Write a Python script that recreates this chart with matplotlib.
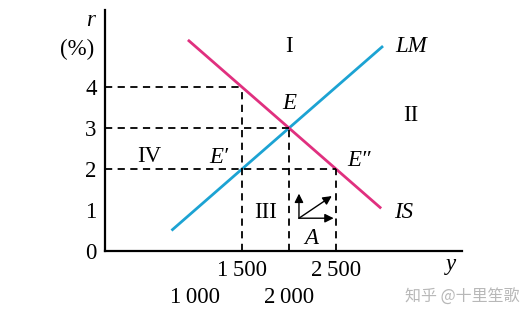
"""
IS-LM diagram: four regions around the equilibrium point E
"""

import matplotlib
matplotlib.use('Agg')
import matplotlib.pyplot as plt
from matplotlib.transforms import blended_transform_factory

plt.rcParams['font.family'] = ['Liberation Serif', 'DejaVu Serif']

# data
lm_y = [750, 3000]          # income range for LM
lm_r = [0.5, 5.0]
is_y = [925, 2980]          # income range for IS
is_r = [5.15, 1.04]

# points where the dashed guides meet the curves
guide_y = [1500, 2000, 2500]
guide_r = [4, 3, 2]

r_ticks = [0, 1, 2, 3, 4]
y_ticks_upper = [1500, 2500]
y_ticks_lower = [1000, 2000]
y_tick_text = {1000: '1\u2009000', 1500: '1\u2009500', 2000: '2\u2009000', 2500: '2\u2009500'}

region_names = ['I', 'II', 'III', 'IV']
region_pos = [(2000, 5.0), (3300, 3.3), (1755, 0.95), (510, 2.3)]

point_names = ['E', "E\u2032", "E\u2033"]
point_pos = [(2000, 3.6), (1255, 2.27), (2745, 2.2)]

# arrows around point A
arrow_origin = (2106, 0.8)
arrow_tips = [(2106, 1.4), (2475, 0.8), (2455, 1.34)]

LM_COLOR = '#1ca3d3'
IS_COLOR = '#e0307f'
FS = 16.5

fig = plt.figure(figsize=(5.28, 3.18), dpi=100)
ax = fig.add_axes([105 / 528, 67 / 318, 357 / 528, 241 / 318])
ax.set_xlim(43, 3840)
ax.set_ylim(0, 5.88)

for s in ['top', 'right']:
    ax.spines[s].set_visible(False)
ax.spines['left'].set_linewidth(1.6)
ax.spines['bottom'].set_linewidth(1.6)

# curves
ax.plot(lm_y, lm_r, color=LM_COLOR, lw=2, solid_capstyle='butt')
ax.plot(is_y, is_r, color=IS_COLOR, lw=2, solid_capstyle='butt')

# dashed guides
dash = dict(color='black', lw=1.3, linestyle=(0, (4, 3)))
for gy, gr in zip(guide_y, guide_r):
    ax.plot([43, gy], [gr, gr], **dash)
    ax.plot([gy, gy], [0, gr], **dash)

# axis ticks
ax.set_yticks(r_ticks)
ax.set_yticklabels([str(t) for t in r_ticks], fontsize=FS)
ax.tick_params(axis='y', length=0, pad=6)
ax.set_xticks([])

trans = blended_transform_factory(ax.transData, ax.transAxes)
for t in y_ticks_upper:
    ax.text(t, -0.08, y_tick_text[t], transform=trans, ha='center', va='center', fontsize=FS)
for t in y_ticks_lower:
    ax.text(t, -0.195, y_tick_text[t], transform=trans, ha='center', va='center', fontsize=FS)

# axis titles
ax.text(-0.04, 0.955, 'r', transform=ax.transAxes, ha='center', va='center',
        fontsize=FS, style='italic')
ax.text(-0.078, 0.835, '(%)', transform=ax.transAxes, ha='center', va='center', fontsize=FS)
ax.text(0.97, -0.055, 'y', transform=ax.transAxes, ha='center', va='center',
        fontsize=FS, style='italic')

# curve labels
ax.text(3300, 4.98, 'LM', ha='center', va='center', fontsize=FS, style='italic')
ax.text(3215, 0.93, 'IS', ha='center', va='center', fontsize=FS, style='italic')

for name, (px, py) in zip(region_names, region_pos):
    ax.text(px, py, name, ha='center', va='center', fontsize=FS)
for name, (px, py) in zip(point_names, point_pos):
    ax.text(px, py, name, ha='center', va='center', fontsize=FS, style='italic')

ax.text(2235, 0.3, 'A', ha='center', va='center', fontsize=FS, style='italic')
for tip in arrow_tips:
    ax.annotate('', xy=tip, xytext=arrow_origin,
                arrowprops=dict(arrowstyle='-|>', color='black', lw=1.0,
                                mutation_scale=13, shrinkA=0, shrinkB=0))

fig.text(0.875, 0.065, '知乎 @十里笙歌', ha='center', va='center', fontsize=11.5,
         color='#b8b8b8', family=['Noto Sans CJK SC', 'DejaVu Sans'])

plt.savefig('out.png', dpi=100)
